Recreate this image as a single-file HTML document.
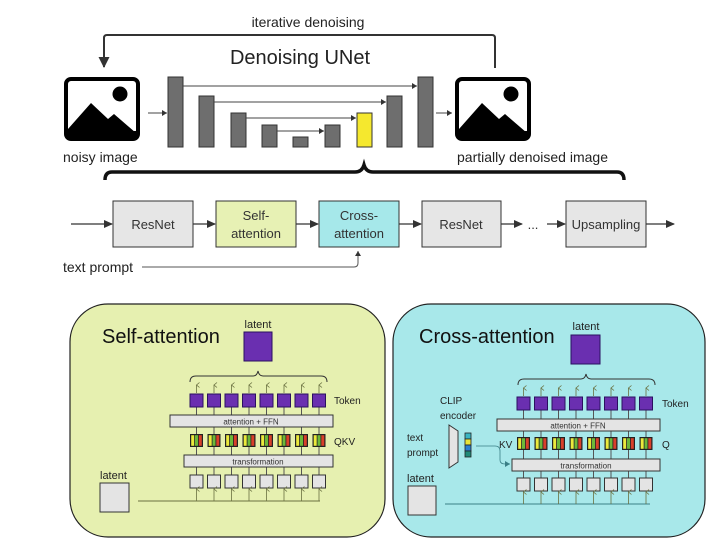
<!DOCTYPE html>
<html><head><meta charset="utf-8"><style>
html,body{margin:0;padding:0;background:#fff;}
svg{display:block;font-family:"Liberation Sans","DejaVu Sans",sans-serif;}
</style></head><body>
<svg width="720" height="546" viewBox="0 0 720 546" xmlns="http://www.w3.org/2000/svg">
<defs>
<marker id="ah" markerWidth="9" markerHeight="9" refX="8" refY="4.5" orient="auto" markerUnits="userSpaceOnUse"><path d="M0,0.5 L9,4.5 L0,8.5 Z" fill="#333"/></marker>
<marker id="ahb" markerWidth="12" markerHeight="12" refX="10" refY="6" orient="auto" markerUnits="userSpaceOnUse"><path d="M0,0.5 L11,6 L0,11.5 Z" fill="#333"/></marker>
<marker id="ah2" markerWidth="6" markerHeight="6" refX="5" refY="3" orient="auto" markerUnits="userSpaceOnUse"><path d="M0,0 L5,3 L0,6 Z" fill="#333"/></marker>
<marker id="ao" markerWidth="6" markerHeight="6" refX="3" refY="1" orient="auto" markerUnits="userSpaceOnUse"><path d="M0.5,4 L3,1 L5.5,4" fill="none" stroke="#6a7040" stroke-width="0.8"/></marker>
<marker id="at" markerWidth="6" markerHeight="6" refX="5" refY="3" orient="auto" markerUnits="userSpaceOnUse"><path d="M0,0 L5,3 L0,6 Z" fill="#3a7f86"/></marker>
<g id="img">
<rect x="2" y="2" width="72" height="60" rx="5" fill="#fff" stroke="#000" stroke-width="4"/>
<path d="M4,58 L4,52 L27,26 L44,42 L50,37 L72,56 L72,60 Z" fill="#000"/>
<rect x="4" y="54" width="68" height="6" fill="#000"/>
<circle cx="56" cy="17" r="7.5" fill="#000"/>
</g>
<g id="col">
<line x1="6.5" y1="13" x2="6.5" y2="81" stroke="#555" stroke-width="1"/>
<line x1="6.5" y1="-1" x2="6.5" y2="-9" stroke="#6a7040" stroke-width="0.8" marker-end="url(#ao)"/>
<rect x="0" y="0" width="13" height="13" fill="#6a2fb0" stroke="#2a1060" stroke-width="1"/>
<rect x="0" y="40" width="13" height="13" fill="#222"/>
<rect x="1.2" y="41.2" width="3" height="10.6" fill="#ecea3c"/>
<rect x="5" y="41.2" width="3" height="10.6" fill="#6cb83a"/>
<rect x="8.8" y="41.2" width="3" height="10.6" fill="#d9402a"/>
<rect x="0" y="81" width="13" height="13" fill="#e4e4e4" stroke="#333" stroke-width="1"/>
<line x1="6.5" y1="107" x2="6.5" y2="95" stroke="#6a7040" stroke-width="0.8" marker-end="url(#ao)"/>
</g>
</defs>

<text x="308" y="27" font-size="14" text-anchor="middle" fill="#222">iterative denoising</text>
<path d="M495,68 L495,38 Q495,35 492,35 L107,35 Q104,35 104,38 L104,67" fill="none" stroke="#333" stroke-width="2" marker-end="url(#ahb)"/>
<text x="300" y="64" font-size="20" text-anchor="middle" fill="#222">Denoising UNet</text>

<use href="#img" x="64" y="77"/>
<use href="#img" x="455" y="77"/>
<text x="63" y="162" font-size="14" fill="#222">noisy image</text>
<text x="457" y="162" font-size="14" fill="#222">partially denoised image</text>

<g fill="#6e6e6e" stroke="#333" stroke-width="1">
<rect x="168" y="77" width="15" height="70"/>
<rect x="199" y="96" width="15" height="51"/>
<rect x="231" y="113" width="15" height="34"/>
<rect x="262" y="125" width="15" height="22"/>
<rect x="293" y="137" width="15" height="10"/>
<rect x="325" y="125" width="15" height="22"/>
<rect x="357" y="113" width="15" height="34" fill="#f5e82e"/>
<rect x="387" y="96" width="15" height="51"/>
<rect x="418" y="77" width="15" height="70"/>
</g>
<g stroke="#444" stroke-width="1" fill="none" marker-end="url(#ah2)">
<line x1="183" y1="86" x2="417" y2="86"/>
<line x1="214" y1="102" x2="386" y2="102"/>
<line x1="246" y1="118" x2="356" y2="118"/>
<line x1="277" y1="131" x2="324" y2="131"/>
<line x1="148" y1="113" x2="167" y2="113"/>
<line x1="436" y1="113" x2="452" y2="113"/>
</g>

<path d="M105,180 Q105,172 112,172 L355,172 Q362,172 364,165 Q366,172 373,172 L617,172 Q624,172 624,180" fill="none" stroke="#111" stroke-width="3.5"/>

<g stroke="#333" stroke-width="1.3" marker-end="url(#ah)">
<line x1="71" y1="224" x2="112" y2="224"/>
<line x1="193" y1="224" x2="215" y2="224"/>
<line x1="296" y1="224" x2="318" y2="224"/>
<line x1="399" y1="224" x2="421" y2="224"/>
<line x1="501" y1="224" x2="522" y2="224"/>
<line x1="547" y1="224" x2="565" y2="224"/>
<line x1="646" y1="224" x2="674" y2="224"/>
</g>
<g stroke="#333" stroke-width="1">
<rect x="113" y="201" width="80" height="46" fill="#e6e6e6"/>
<rect x="216" y="201" width="80" height="46" fill="#e7f1b4"/>
<rect x="319" y="201" width="80" height="46" fill="#a6e8ea"/>
<rect x="422" y="201" width="79" height="46" fill="#e6e6e6"/>
<rect x="566" y="201" width="80" height="46" fill="#e6e6e6"/>
</g>
<g font-size="13" fill="#333" text-anchor="middle">
<text x="153" y="229">ResNet</text>
<text x="256" y="220">Self-</text><text x="256" y="238">attention</text>
<text x="359" y="220">Cross-</text><text x="359" y="238">attention</text>
<text x="461" y="229">ResNet</text>
<text x="533" y="229">...</text>
<text x="606" y="229">Upsampling</text>
</g>
<text x="63" y="272" font-size="14" fill="#222">text prompt</text>
<path d="M142,267 L354,267 Q358,267 358,263 L358,251" fill="none" stroke="#555" stroke-width="1" marker-end="url(#ah2)"/>

<rect x="70" y="304" width="315" height="233" rx="38" fill="#e6f0b0" stroke="#222" stroke-width="1.2"/>
<text x="102" y="343" font-size="20" fill="#111">Self-attention</text>
<text x="258" y="328" font-size="11" text-anchor="middle" fill="#222">latent</text>
<rect x="244" y="332" width="28" height="29" fill="#6a2fb0" stroke="#2a1060"/>
<path d="M190,382 Q190,376 196,376 L253,376 Q257,376 258,371 Q259,376 263,376 L321,376 Q327,376 327,382" fill="none" stroke="#333" stroke-width="1"/>
<line x1="138" y1="501" x2="320" y2="501" stroke="#6a7040" stroke-width="1"/>
<g transform="translate(190,394)">
<use href="#col" x="0"/><use href="#col" x="17.5"/><use href="#col" x="35"/><use href="#col" x="52.5"/>
<use href="#col" x="70"/><use href="#col" x="87.5"/><use href="#col" x="105"/><use href="#col" x="122.5"/>
</g>
<rect x="170" y="415" width="163" height="12" fill="#e4e4e4" stroke="#333"/>
<text x="251" y="424.5" font-size="8" text-anchor="middle" fill="#333">attention + FFN</text>
<rect x="184" y="455" width="149" height="12" fill="#e4e4e4" stroke="#333"/>
<text x="258" y="464.5" font-size="8" text-anchor="middle" fill="#333">transformation</text>
<text x="334" y="404" font-size="10" fill="#222">Token</text>
<text x="334" y="445" font-size="10" fill="#222">QKV</text>
<text x="100" y="479" font-size="11" fill="#222">latent</text>
<rect x="100" y="483" width="29" height="29" fill="#e4e4e4" stroke="#333"/>

<rect x="393" y="304" width="312" height="233" rx="38" fill="#a8e8ea" stroke="#222" stroke-width="1.2"/>
<text x="419" y="343" font-size="20" fill="#111">Cross-attention</text>
<text x="586" y="330" font-size="11" text-anchor="middle" fill="#222">latent</text>
<rect x="571" y="335" width="29" height="29" fill="#6a2fb0" stroke="#2a1060"/>
<path d="M518,385 Q518,379 524,379 L581,379 Q585,379 586,374 Q587,379 591,379 L649,379 Q655,379 655,385" fill="none" stroke="#333" stroke-width="1"/>
<line x1="445" y1="504" x2="650" y2="504" stroke="#3a7f86" stroke-width="1"/>
<g transform="translate(517,397)">
<use href="#col" x="0"/><use href="#col" x="17.5"/><use href="#col" x="35"/><use href="#col" x="52.5"/>
<use href="#col" x="70"/><use href="#col" x="87.5"/><use href="#col" x="105"/><use href="#col" x="122.5"/>
</g>
<rect x="497" y="419" width="163" height="12" fill="#e4e4e4" stroke="#333"/>
<text x="578" y="428.5" font-size="8" text-anchor="middle" fill="#333">attention + FFN</text>
<rect x="512" y="459" width="148" height="12" fill="#e4e4e4" stroke="#333"/>
<text x="586" y="468.5" font-size="8" text-anchor="middle" fill="#333">transformation</text>
<text x="662" y="407" font-size="10" fill="#222">Token</text>
<text x="499" y="448" font-size="10" fill="#222">KV</text>
<text x="662" y="448" font-size="10" fill="#222">Q</text>
<text x="440" y="404" font-size="10" fill="#222">CLIP</text>
<text x="440" y="419" font-size="10" fill="#222">encoder</text>
<text x="407" y="441" font-size="10" fill="#222">text</text>
<text x="407" y="456" font-size="10" fill="#222">prompt</text>
<path d="M449,425 L458,431 L458,462 L449,468 Z" fill="#e4e4e4" stroke="#333"/>
<g stroke="#222" stroke-width="0.8">
<rect x="465" y="433" width="6" height="6" fill="#3ab5c2"/>
<rect x="465" y="439" width="6" height="6" fill="#e8e43a"/>
<rect x="465" y="445" width="6" height="6" fill="#2a7ed0"/>
<rect x="465" y="451" width="6" height="6" fill="#1f8a78"/>
</g>
<path d="M476,446 L495,446 Q500,446 500,451 L500,460 Q500,464 505,464 L510,464" fill="none" stroke="#3a7f86" stroke-width="0.8" marker-end="url(#at)"/>
<text x="407" y="482" font-size="11" fill="#222">latent</text>
<rect x="408" y="486" width="28" height="29" fill="#e4e4e4" stroke="#333"/>
</svg>
</body></html>
